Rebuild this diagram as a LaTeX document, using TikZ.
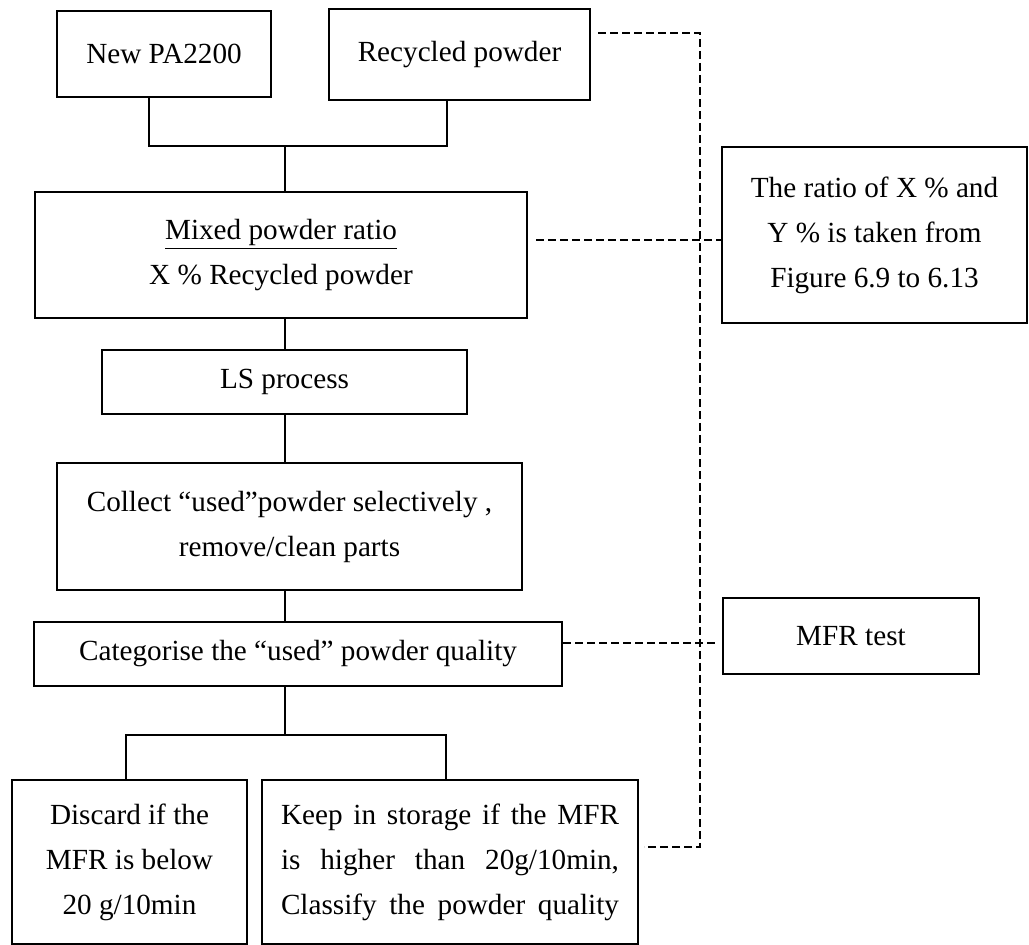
\documentclass[tikz,border=0pt]{standalone}
\usepackage{fontspec}
\setmainfont{Liberation Serif}
\begin{document}
\begin{tikzpicture}[x=0.5pt,y=-0.5pt,
  box/.style={draw, line width=1pt, rectangle, inner sep=0pt, align=center,
    font=\fontsize{14.6}{22.5}\selectfont},
  conn/.style={line width=1pt},
  dashconn/.style={line width=1pt, dash pattern=on 4pt off 2pt}]
\useasboundingbox (0,0) rectangle (1029,945);
% boxes
\node[box, minimum width=107pt, minimum height=43pt] (npa) at (164,54) {New PA2200};
\node[box, minimum width=130.5pt, minimum height=45.5pt] (rec) at (459.5,54.5) {Recycled powder};
\node[box, minimum width=246pt, minimum height=63pt] (mix) at (281,255) {\underline{Mixed powder ratio}\\X \% Recycled powder};
\node[box, minimum width=182.5pt, minimum height=32pt] (ls) at (284.5,382) {LS process};
\node[box, minimum width=232.5pt, minimum height=63.5pt] (col) at (289.5,526.5) {Collect “used”powder selectively ,\\remove/clean parts};
\node[box, minimum width=264pt, minimum height=32pt] (cat) at (298,654) {Categorise the “used” powder quality};
\node[box, minimum width=117.5pt, minimum height=82pt] (dis) at (129.5,862) {Discard if the\\MFR is below\\20 g/10min};
\node[box, minimum width=188pt, minimum height=82pt] (keep) at (450,862) {\makebox[169pt][s]{Keep in storage if the MFR}\\\makebox[169pt][s]{is higher than 20g/10min,}\\\makebox[169pt][s]{Classify the powder quality}};
\node[box, minimum width=152.5pt, minimum height=88pt] (ratio) at (874.5,235) {The ratio of X \% and\\Y \% is taken from\\Figure 6.9 to 6.13};
\node[box, minimum width=128pt, minimum height=38pt] (mfr) at (851,636) {MFR test};
% junction coordinates
\coordinate (a1) at (149,146);
\coordinate (a2) at (447,146);
\coordinate (jt) at (285,146);
\coordinate (jb) at (285,735);
\coordinate (b1) at (126,735);
\coordinate (b2) at (446,735);
\coordinate (dt) at (700,33);
\coordinate (db) at (700,847);
\coordinate (dm) at (700,240);
\coordinate (dc) at (700,643);
% solid connectors
\draw[conn] (npa.south -| a1) -- (a1) -- (a2) -- (rec.south -| a2);
\draw[conn] (jt) -- (mix.north -| jt);
\draw[conn] (mix.south -| jt) -- (ls.north -| jt);
\draw[conn] (ls.south -| jt) -- (col.north -| jt);
\draw[conn] (col.south -| jt) -- (cat.north -| jt);
\draw[conn] (cat.south -| jb) -- (jb);
\draw[conn] (dis.north -| b1) -- (b1) -- (b2) -- (keep.north -| b2);
% dashed connectors
\draw[dashconn, shorten <=3.5pt, shorten >=2.5pt] (rec.east |- dt) -- (dt) -- (db) -- (keep.east |- db);
\draw[dashconn, shorten <=4pt] (mix.east |- dm) -- (ratio.west |- dm);
\draw[dashconn, shorten >=3.5pt] (cat.east |- dc) -- (mfr.west |- dc);
\end{tikzpicture}
\end{document}
